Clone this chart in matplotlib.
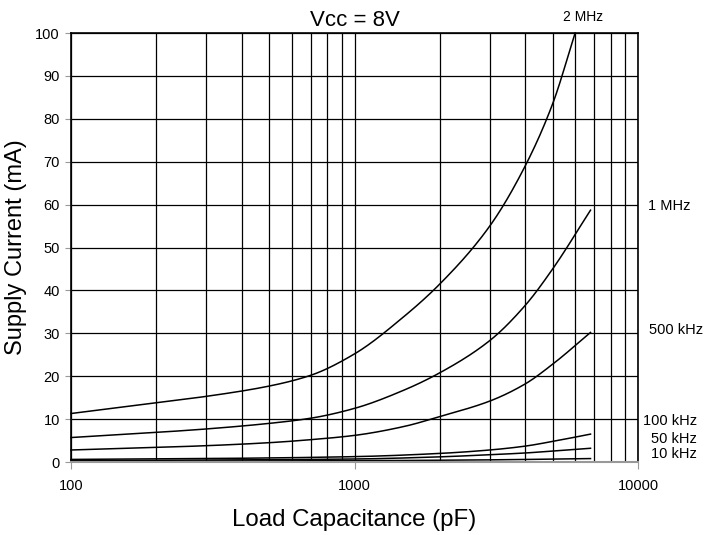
import matplotlib
matplotlib.use("Agg")
import matplotlib.pyplot as plt
import numpy as np

plt.rcParams['font.family'] = ['Liberation Sans', 'DejaVu Sans']

# Data (Load capacitance pF -> supply current mA)
cap_2mhz = [100, 200, 300, 500, 700, 1000, 1500, 2000, 3000, 4000, 5000, 6000]
cur_2mhz = [11.3, 13.8, 15.3, 17.7, 20.2, 25.2, 34.0, 41.5, 55.0, 69.0, 83.5, 100.0]

cap_1mhz = [100, 200, 300, 500, 700, 1000, 1500, 2000, 3000, 4000, 5000, 6800]
cur_1mhz = [5.7, 6.9, 7.7, 9.0, 10.2, 12.5, 16.8, 20.8, 28.3, 36.5, 45.0, 58.7]

cap_500k = [100, 200, 300, 500, 700, 1000, 1500, 2000, 3000, 4000, 5000, 6800]
cur_500k = [2.8, 3.4, 3.8, 4.5, 5.2, 6.2, 8.3, 10.6, 14.2, 18.2, 22.8, 30.2]

cap_100k = [100, 300, 1000, 2000, 3000, 4000, 5000, 6800]
cur_100k = [0.6, 0.8, 1.25, 2.0, 2.8, 3.7, 4.8, 6.5]

cap_50k = [100, 1000, 2000, 3000, 4000, 5000, 6800]
cur_50k = [0.3, 0.7, 1.2, 1.7, 2.1, 2.55, 3.2]

cap_10k = [100, 1000, 3000, 6800]
cur_10k = [0.1, 0.3, 0.5, 0.8]

series = [(cap_2mhz, cur_2mhz), (cap_1mhz, cur_1mhz), (cap_500k, cur_500k),
          (cap_100k, cur_100k), (cap_50k, cur_50k), (cap_10k, cur_10k)]
labels = ["2 MHz", "1 MHz", "500 kHz", "100 kHz", "50 kHz", "10 kHz"]
label_y = [103.8, 59.7, 30.7, 9.6, 5.4, 1.9]
label_x_px = [583, 690, 703, 697, 697, 697]


def pchip(x, y, xn):
    x = np.asarray(x, float); y = np.asarray(y, float)
    h = np.diff(x); d = np.diff(y) / h
    n = len(x)
    m = np.zeros(n)
    for k in range(1, n - 1):
        if d[k-1] * d[k] > 0:
            w1 = 2*h[k] + h[k-1]; w2 = h[k] + 2*h[k-1]
            m[k] = (w1 + w2) / (w1 / d[k-1] + w2 / d[k])
    m[0] = d[0]; m[-1] = d[-1]
    idx = np.clip(np.searchsorted(x, xn) - 1, 0, n - 2)
    t = (xn - x[idx]) / h[idx]
    h00 = 2*t**3 - 3*t**2 + 1; h10 = t**3 - 2*t**2 + t
    h01 = -2*t**3 + 3*t**2; h11 = t**3 - t**2
    return h00*y[idx] + h10*h[idx]*m[idx] + h01*y[idx+1] + h11*h[idx]*m[idx+1]


fig = plt.figure(figsize=(7.07, 5.35), dpi=100)
ax = fig.add_axes([71/707, 1 - 462/535, (638-71)/707, (462-33)/535])

for (xs, ys) in series:
    lx = np.log10(xs)
    fine = np.linspace(lx[0], lx[-1], 400)
    ax.plot(10**fine, pchip(lx, ys, fine), color='black', lw=1.1, clip_on=False)

ax.set_xscale('log')
ax.set_xlim(100, 10000)
ax.set_ylim(0, 100)
ax.set_yticks(np.arange(0, 101, 10))
ax.set_xticks([100, 1000, 10000])
ax.set_xticklabels(['100', '1000', '10000'])
ax.xaxis.set_minor_locator(matplotlib.ticker.LogLocator(base=10, subs=np.arange(2, 10)))
ax.xaxis.set_minor_formatter(matplotlib.ticker.NullFormatter())
ax.grid(True, which='both', axis='x', color='black', lw=0.9)
ax.grid(True, which='major', axis='y', color='black', lw=0.9)
ax.tick_params(axis='x', which='minor', length=0)
ax.tick_params(axis='x', which='major', length=5, color='#999999', direction='out',
               labelsize=10.5, pad=7)
ax.tick_params(axis='y', length=4, color='#999999', labelsize=10.5, pad=4)
for s in ['top', 'right', 'left']:
    ax.spines[s].set_color('black')
    ax.spines[s].set_linewidth(1.2)
ax.spines['bottom'].set_color('#999999')
ax.spines['bottom'].set_linewidth(1.5)

blend = matplotlib.transforms.blended_transform_factory(fig.transFigure, ax.transData)
for lab, yv, xp in zip(labels, label_y, label_x_px):
    if lab == "2 MHz":
        ax.text(xp/707, yv, lab, transform=blend, ha='center', va='center', fontsize=10, clip_on=False)
    else:
        ax.text(xp/707, yv, lab, transform=blend, ha='right', va='center', fontsize=10.5)

ax.set_title('Vcc = 8V', fontsize=16, pad=5)
ax.set_xlabel('Load Capacitance (pF)', fontsize=17.3, labelpad=12)
ax.set_ylabel('Supply Current (mA)', fontsize=17, labelpad=6)

fig.savefig('out.png', dpi=100)
